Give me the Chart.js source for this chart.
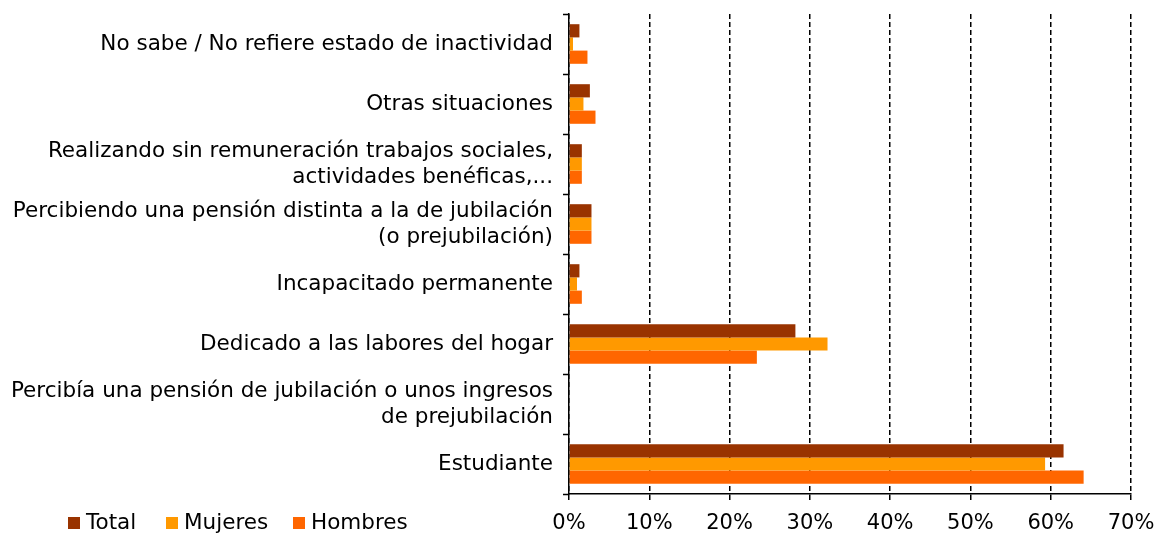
<!DOCTYPE html>
<html>
<head>
<meta charset="utf-8">
<script src="https://cdn.jsdelivr.net/npm/chart.js@4.4.1/dist/chart.umd.min.js"></script>
<style>
  html, body { margin: 0; padding: 0; background: #fff; }
  #wrap { position: relative; width: 1163px; height: 533px; }
  #legend { position: absolute; left: 0; top: 509px; width: 560px; height: 26px; font-family: "DejaVu Sans", Verdana, sans-serif; font-size: 21.5px; color: #000; }
  .item { position: absolute; top: 0; display: flex; align-items: center; white-space: nowrap; line-height: 26px; }
  .sw { width: 12px; height: 12px; margin-right: 6px; display: inline-block; position: relative; top: 1px; }
</style>
</head>
<body>
<div id="wrap">
  <canvas id="c" width="1163" height="533"></canvas>
  <div id="legend"></div>
</div>
<script>
const categories = [
  "No sabe / No refiere estado de inactividad",
  "Otras situaciones",
  ["Realizando sin remuneración trabajos sociales,", "actividades benéficas,..."],
  ["Percibiendo una pensión distinta a la de jubilación", "(o prejubilación)"],
  "Incapacitado permanente",
  "Dedicado a las labores del hogar",
  ["Percibía una pensión de jubilación o unos ingresos", "de prejubilación"],
  "Estudiante"
];
const seriesNames = ["Total", "Mujeres", "Hombres"];
const totalValues   = [1.3, 2.6, 1.6, 2.8, 1.3, 28.2, 0, 61.6];
const mujeresValues = [0.5, 1.8, 1.6, 2.8, 1.0, 32.2, 0, 59.3];
const hombresValues = [2.3, 3.3, 1.6, 2.8, 1.6, 23.4, 0, 64.1];
const seriesColors = ["#993300", "#FF9900", "#FF6600"];
const xTicks = [0, 10, 20, 30, 40, 50, 60, 70];
const legendLeft = [68, 166, 293];

const FONT = "'DejaVu Sans', Verdana, sans-serif";
const values = [totalValues, mujeresValues, hombresValues];

const datasets = seriesNames.map((name, i) => ({
  label: name,
  data: values[i],
  backgroundColor: seriesColors[i],
  borderWidth: 0,
  categoryPercentage: 0.66,
  barPercentage: 1.0
}));

new Chart(document.getElementById('c'), {
  type: 'bar',
  data: { labels: categories, datasets },
  options: {
    indexAxis: 'y',
    responsive: false,
    animation: false,
    devicePixelRatio: 1,
    layout: { padding: { top: 14, right: 32, left: 0, bottom: 0 } },
    plugins: { legend: { display: false }, tooltip: { enabled: false } },
    scales: {
      x: {
        min: 0, max: 70,
        afterBuildTicks: (s) => { s.ticks = xTicks.map(v => ({ value: v })); },
        afterFit: (s) => { s.height = 39; s.paddingLeft = 0; s.paddingRight = 0; },
        ticks: {
          callback: (v) => v + '%',
          font: { family: FONT, size: 21 },
          color: '#000',
          padding: 11,
          maxRotation: 0
        },
        grid: {
          color: '#000',
          lineWidth: 1.5,
          drawTicks: true,
          tickLength: 6,
          tickColor: '#000',
          tickWidth: 1.5,
          tickBorderDash: []
        },
        border: { display: true, color: '#000', width: 1.5, dash: [5, 3] }
      },
      y: {
        afterFit: (s) => { s.width = 569; s.paddingTop = 0; s.paddingBottom = 0; },
        ticks: {
          font: { family: FONT, size: 21.5, lineHeight: 1.21 },
          color: '#000',
          padding: 10
        },
        grid: {
          drawOnChartArea: false,
          drawTicks: true,
          tickLength: 6,
          tickColor: '#000',
          tickWidth: 1.5,
          color: '#000'
        },
        border: { display: true, color: '#000', width: 1.5 }
      }
    }
  }
});

const legend = document.getElementById('legend');
seriesNames.forEach((name, i) => {
  const it = document.createElement('span');
  it.className = 'item';
  it.style.left = legendLeft[i] + 'px';
  const sw = document.createElement('span');
  sw.className = 'sw';
  sw.style.background = seriesColors[i];
  it.appendChild(sw);
  it.appendChild(document.createTextNode(name));
  legend.appendChild(it);
});
</script>
</body>
</html>
